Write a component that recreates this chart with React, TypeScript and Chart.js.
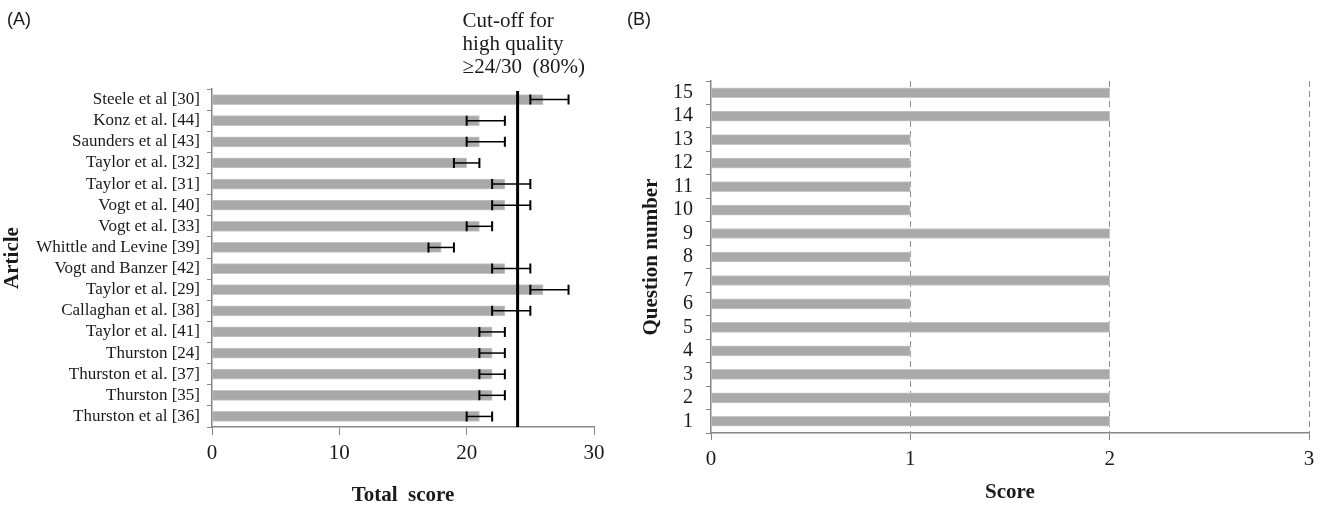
import React, { useEffect, useRef } from "react";
import { Chart, registerables } from "chart.js";

Chart.register(...registerables);

// ---------- Data: panel A ----------
const articles = [
  "Steele et al [30]",
  "Konz et al. [44]",
  "Saunders et al [43]",
  "Taylor et al. [32]",
  "Taylor et al. [31]",
  "Vogt et al. [40]",
  "Vogt et al. [33]",
  "Whittle and Levine [39]",
  "Vogt and Banzer [42]",
  "Taylor et al. [29]",
  "Callaghan et al. [38]",
  "Taylor et al. [41]",
  "Thurston [24]",
  "Thurston et al. [37]",
  "Thurston [35]",
  "Thurston et al [36]",
];
const totalScores = [26, 21, 21, 20, 23, 23, 21, 18, 23, 26, 23, 22, 22, 22, 22, 21];
const scoreMin = [25, 20, 20, 19, 22, 22, 20, 17, 22, 25, 22, 21, 21, 21, 21, 20];
const scoreMax = [28, 23, 23, 21, 25, 25, 22, 19, 25, 28, 25, 23, 23, 23, 23, 22];
const cutoffValue = 24;
const cutoffText = ["Cut-off for", "high quality", "\u226524/30  (80%)"];
const totalTicks = [0, 10, 20, 30];

// ---------- Data: panel B ----------
const questions = ["15", "14", "13", "12", "11", "10", "9", "8", "7", "6", "5", "4", "3", "2", "1"];
const questionScores = [2, 2, 1, 1, 1, 1, 2, 1, 2, 1, 2, 1, 2, 2, 2];
const scoreTicks = [0, 1, 2, 3];

const SERIF = "'Liberation Serif', 'Times New Roman', serif";
const BAR = "#a9a9a9";
const AXIS = "#868686";
const TEXT = "#1a1a1a";

function ChartA() {
  const ref = useRef<HTMLCanvasElement | null>(null);
  useEffect(() => {
    if (!ref.current) return;
    const extras = {
      id: "extrasA",
      afterDatasetsDraw(chart: any) {
        const ctx = chart.ctx;
        const xs = chart.scales.x;
        const meta = chart.getDatasetMeta(0);
        ctx.save();
        ctx.strokeStyle = "#000";
        meta.data.forEach((el: any, i: number) => {
          const y = el.y;
          const x1 = xs.getPixelForValue(scoreMin[i]);
          const x2 = xs.getPixelForValue(scoreMax[i]);
          ctx.lineWidth = 1.5;
          ctx.beginPath();
          ctx.moveTo(x1, y);
          ctx.lineTo(x2, y);
          ctx.stroke();
          ctx.lineWidth = 2;
          ctx.beginPath();
          ctx.moveTo(x1, y - 5);
          ctx.lineTo(x1, y + 5);
          ctx.moveTo(x2, y - 5);
          ctx.lineTo(x2, y + 5);
          ctx.stroke();
        });
        // cut-off line
        const cx = xs.getPixelForValue(cutoffValue);
        ctx.lineWidth = 3;
        ctx.beginPath();
        ctx.moveTo(cx, chart.chartArea.top + 2);
        ctx.lineTo(cx, chart.chartArea.bottom);
        ctx.stroke();
        // cut-off text
        ctx.fillStyle = TEXT;
        ctx.font = `21px ${SERIF}`;
        ctx.textAlign = "left";
        ctx.textBaseline = "alphabetic";
        cutoffText.forEach((t, i) => {
          ctx.fillText(t, cx - 55, 27 + i * 23);
        });
        ctx.restore();
      },
    };
    const chart = new Chart(ref.current, {
      type: "bar",
      data: {
        labels: articles,
        datasets: [
          {
            data: totalScores,
            backgroundColor: BAR,
            borderColor: "#c6c6c6",
            borderWidth: 1,
            borderSkipped: "left",
            barThickness: 10,
          },
        ],
      },
      options: {
        indexAxis: "y",
        animation: false,
        responsive: false,
        devicePixelRatio: 1,
        layout: { padding: { top: 89, right: 26, left: 0, bottom: 0 } },
        plugins: { legend: { display: false }, tooltip: { enabled: false } },
        scales: {
          x: {
            min: 0,
            max: 30,
            afterFit: (s: any) => {
              s.height = 81;
            },
            afterBuildTicks: (s: any) => {
              s.ticks = totalTicks.map((v) => ({ value: v }));
            },
            ticks: { font: { family: SERIF, size: 21 }, color: TEXT, padding: 6 },
            grid: { drawOnChartArea: false, tickLength: 8, color: AXIS },
            border: { color: AXIS, width: 1.5 },
            title: {
              display: true,
              text: "Total  score",
              font: { family: SERIF, size: 21, weight: "bold" },
              color: TEXT,
              padding: { top: 0, bottom: 0 },
            },
          },
          y: {
            afterFit: (s: any) => {
              s.width = 212;
            },
            ticks: { font: { family: SERIF, size: 17 }, color: TEXT, padding: 7, autoSkip: false },
            grid: { drawOnChartArea: false, offset: true, tickLength: 5, color: AXIS },
            border: { color: AXIS, width: 1.5 },
            title: {
              display: true,
              text: "Article",
              font: { family: SERIF, size: 21, weight: "bold" },
              color: TEXT,
              padding: { top: 0, bottom: 0 },
            },
          },
        },
      },
      plugins: [extras],
    } as any);
    return () => chart.destroy();
  }, []);
  return <canvas ref={ref} width={620} height={508} style={{ position: "absolute", left: 0, top: 0, width: 620, height: 508 }} />;
}

function ChartB() {
  const ref = useRef<HTMLCanvasElement | null>(null);
  useEffect(() => {
    if (!ref.current) return;
    const chart = new Chart(ref.current, {
      type: "bar",
      data: {
        labels: questions,
        datasets: [
          {
            data: questionScores,
            backgroundColor: BAR,
            borderColor: "#c6c6c6",
            borderWidth: 1,
            borderSkipped: "left",
            barThickness: 10,
          },
        ],
      },
      options: {
        indexAxis: "y",
        animation: false,
        responsive: false,
        devicePixelRatio: 1,
        layout: { padding: { top: 81, right: 16, left: 0, bottom: 0 } },
        plugins: { legend: { display: false }, tooltip: { enabled: false } },
        scales: {
          x: {
            min: 0,
            max: 3,
            afterFit: (s: any) => {
              s.height = 75;
            },
            afterBuildTicks: (s: any) => {
              s.ticks = scoreTicks.map((v) => ({ value: v }));
            },
            ticks: { font: { family: SERIF, size: 21 }, color: TEXT, padding: 7 },
            grid: {
              drawOnChartArea: true,
              tickLength: 7,
              color: (c: any) => (c.tick && c.tick.value === 0 ? "rgba(0,0,0,0)" : "#8f8f8f"),
              tickColor: AXIS,
              tickBorderDash: [],
              lineWidth: 1,
              z: -1,
            },
            border: { color: AXIS, width: 1.5, dash: [6, 4] },
            title: {
              display: true,
              text: "Score",
              font: { family: SERIF, size: 21, weight: "bold" },
              color: TEXT,
              padding: { top: 0, bottom: 3 },
            },
          },
          y: {
            afterFit: (s: any) => {
              s.width = 91;
            },
            ticks: { font: { family: SERIF, size: 20 }, color: TEXT, padding: 13, autoSkip: false },
            grid: { drawOnChartArea: false, offset: true, tickLength: 5, color: AXIS },
            border: { color: AXIS, width: 1.5 },
            title: {
              display: true,
              text: "Question number",
              font: { family: SERIF, size: 21, weight: "bold" },
              color: TEXT,
              padding: { top: 19, bottom: 0 },
            },
          },
        },
      },
    } as any);
    return () => chart.destroy();
  }, []);
  return <canvas ref={ref} width={705} height={508} style={{ position: "absolute", left: 620, top: 0, width: 705, height: 508 }} />;
}

export default function App() {
  const panelLabel: React.CSSProperties = {
    position: "absolute",
    top: 10,
    fontFamily: "'Liberation Sans', Arial, sans-serif",
    fontSize: 18,
    lineHeight: "18px",
    color: TEXT,
  };
  return (
    <div style={{ position: "absolute", left: 0, top: 0, width: 1325, height: 508, background: "#fff", overflow: "hidden" }}>
      <ChartA />
      <ChartB />
      <div style={{ ...panelLabel, left: 7 }}>(A)</div>
      <div style={{ ...panelLabel, left: 627 }}>(B)</div>
    </div>
  );
}
